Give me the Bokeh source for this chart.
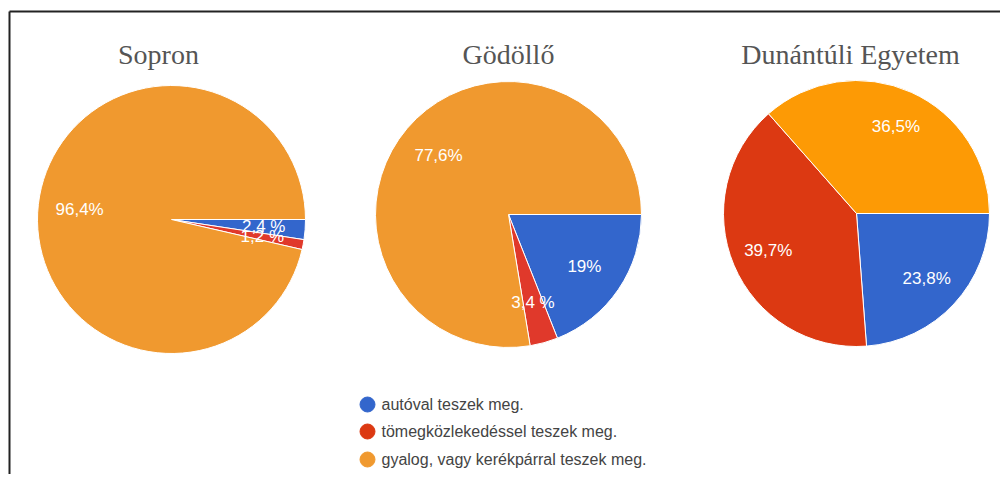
import numpy as np
from bokeh.plotting import figure
from bokeh.models import Range1d, ColumnDataSource
from bokeh.core.properties import value
from bokeh.embed import file_html
from bokeh.resources import INLINE

# ---- data ----
titles = ["Sopron", "Gödöllő", "Dunántúli Egyetem"]
categories = ["autóval teszek meg.", "tömegközlekedéssel teszek meg.",
              "gyalog, vagy kerékpárral teszek meg."]
sopron = [2.4, 1.2, 96.4]
godollo = [19.0, 3.4, 77.6]
dunantuli = [23.8, 39.7, 36.5]
sopron_labels = ["2,4 %", "1,2 %", "96,4%"]
godollo_labels = ["19%", "3,4 %", "77,6%"]
dunantuli_labels = ["23,8%", "39,7%", "36,5%"]

# ---- styles / layout ----
W, H = 1000, 474
pie_colors = [["#3366cc", "#e0392b", "#f0992f"],
              ["#3366cc", "#e0392b", "#f0992f"],
              ["#3366cc", "#dc3912", "#fd9a05"]]
legend_colors = ["#3366cc", "#dc3912", "#f0992f"]


def d(sx, sy):
    """picture px -> data coords"""
    return sx, H - sy


centers = [d(171, 219), d(508, 214), d(856, 213)]
radii = [134, 133, 133]
label_r = [0.69, 0.69, 0.72]
title_x = [158, 508, 850]

p = figure(width=W, height=H, x_range=Range1d(0, W), y_range=Range1d(0, H),
           min_border=0, toolbar_location=None, output_backend="svg")
p.axis.visible = False
p.grid.visible = False
p.outline_line_color = None
p.background_fill_color = "white"
p.border_fill_color = "white"

# border (left and top)
bx0, by0 = d(9, 11)
p.segment(x0=[bx0, bx0], y0=[by0, by0], x1=[bx0, W + 10], y1=[-10, by0],
          line_color="#222222", line_width=2)

all_vals = [sopron, godollo, dunantuli]
all_labels = [sopron_labels, godollo_labels, dunantuli_labels]

for i, (vals, labs) in enumerate(zip(all_vals, all_labels)):
    cx, cy = centers[i]
    r = radii[i]
    v = np.array(vals, dtype=float)
    frac = v / v.sum()
    cum_after = np.cumsum(frac)
    cum_before = cum_after - frac
    start = -2 * np.pi * cum_after
    end = -2 * np.pi * cum_before
    mid = -2 * np.pi * (cum_before + frac / 2)
    src = ColumnDataSource(dict(start=start, end=end, color=pie_colors[i],
                                lx=cx + label_r[i] * r * np.cos(mid),
                                ly=cy + label_r[i] * r * np.sin(mid),
                                lab=labs))
    p.wedge(x=cx, y=cy, radius=r, start_angle="start", end_angle="end",
            fill_color="color", line_color="white", line_width=1, source=src)
    p.text(x="lx", y="ly", text="lab", source=src, text_color="white",
           text_font=value("Liberation Sans"), text_font_size="17px",
           text_align="center", text_baseline="middle")
    tx, ty = d(title_x[i], 54)
    p.text(x=[tx], y=[ty], text=[titles[i]], text_color="#555555",
           text_font=value("Liberation Serif"), text_font_size="28px",
           text_align="center", text_baseline="alphabetic")

# legend
leg_y = [404, 431, 459]
lx, _ = d(367, 0)
tx, _ = d(381, 0)
ly = [d(0, yy)[1] for yy in leg_y]
lsrc = ColumnDataSource(dict(x=[lx] * 3, tx=[tx] * 3, y=ly, c=legend_colors,
                             t=categories))
p.scatter(x="x", y="y", source=lsrc, size=15, fill_color="c", line_color="c")
p.text(x="tx", y="y", text="t", source=lsrc, text_color="#444444",
       text_font=value("Liberation Sans"), text_font_size="16px",
       text_align="left", text_baseline="middle")

open("out.html", "w").write(file_html(p, INLINE))
